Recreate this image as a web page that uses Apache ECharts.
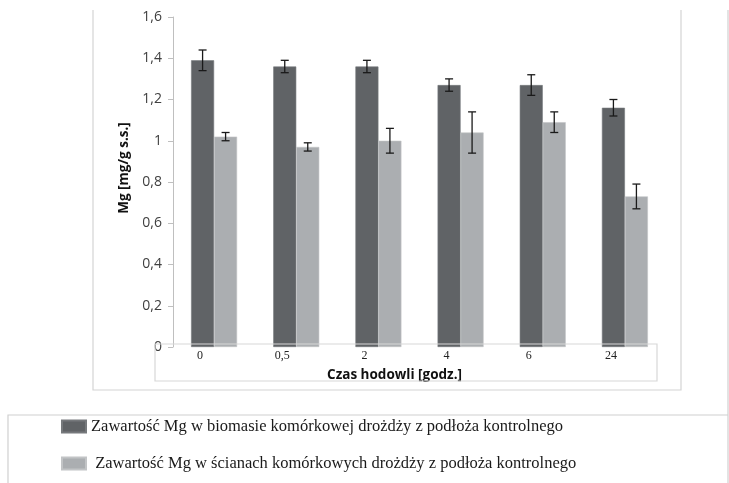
<!DOCTYPE html>
<html>
<head>
<meta charset="utf-8">
<title>Mg</title>
<script type="text/javascript" src="https://cdn.jsdelivr.net/npm/echarts@6/dist/echarts.min.js"></script>
<style>
  html, body { margin: 0; padding: 0; background: #fff; }
</style>
</head>
<body>
<div id="main" style="width: 729px; height: 483px;"></div>
<script type="text/javascript">
// czas hodowli [godz.]
var categories = ['0', '0,5', '2', '4', '6', '24'];
// zawartosc Mg w biomasie
var biomass = [1.39, 1.36, 1.36, 1.27, 1.27, 1.16];
var biomassErr = [0.05, 0.03, 0.03, 0.03, 0.05, 0.04];
// zawartosc Mg w scianach komorkowych
var walls = [1.02, 0.97, 1.00, 1.04, 1.09, 0.73];
var wallsErr = [0.02, 0.02, 0.06, 0.10, 0.05, 0.06];

var name1 = 'Zawartość Mg w biomasie komórkowej drożdży z podłoża kontrolnego';
var name2 = ' Zawartość Mg w ścianach komórkowych drożdży z podłoża kontrolnego';

var barW = 23;

function errData(vals, errs) {
  var out = [];
  for (var i = 0; i < vals.length; i++) {
    out.push([i, vals[i], errs[i]]);
  }
  return out;
}

// wasy bledow, przesuniete do srodka slupka
function errRenderer(shift) {
  return function (params, api) {
    var i = api.value(0);
    var hi = api.coord([i, api.value(1) + api.value(2)]);
    var lo = api.coord([i, api.value(1) - api.value(2)]);
    var x = hi[0] + shift;
    var cap = 4;
    var st = { stroke: '#1a1a1a', lineWidth: 1.3 };
    return {
      type: 'group',
      children: [
        { type: 'line', shape: { x1: x, y1: hi[1], x2: x, y2: lo[1] }, style: st },
        { type: 'line', shape: { x1: x - cap, y1: hi[1], x2: x + cap, y2: hi[1] }, style: st },
        { type: 'line', shape: { x1: x - cap, y1: lo[1], x2: x + cap, y2: lo[1] }, style: st }
      ]
    };
  };
}

var myChart = echarts.init(document.getElementById('main'));

var option = {
  animation: false,
  backgroundColor: '#ffffff',
  grid: { left: 173, right: 63, top: 17, bottom: 136 },
  legend: {
    orient: 'vertical',
    left: 56,
    top: 413,
    itemWidth: 24,
    itemHeight: 12,
    itemGap: 20,
    icon: 'rect',
    data: [name1, name2],
    textStyle: { fontFamily: 'Liberation Serif', fontSize: 16.5, color: '#1a1a1a', lineHeight: 15 }
  },
  xAxis: {
    type: 'category',
    data: categories,
    axisLine: { show: false },
    axisTick: { show: false },
    axisLabel: {
      margin: 3,
      fontFamily: 'Liberation Serif',
      fontSize: 12,
      color: '#222',
      padding: [0, 28, 0, 0]
    },
    name: 'Czas hodowli [godz.]',
    nameLocation: 'middle',
    nameGap: 21,
    nameTextStyle: {
      fontFamily: 'Open Sans',
      fontWeight: 'bold',
      fontSize: 13.5,
      color: '#111',
      padding: [0, 50, 0, 0]
    }
  },
  yAxis: {
    type: 'value',
    min: 0,
    max: 1.6,
    interval: 0.2,
    axisLine: { show: true, lineStyle: { color: '#bfbfbf' } },
    axisTick: { show: true, length: 5, lineStyle: { color: '#bfbfbf' } },
    splitLine: { show: false },
    axisLabel: {
      margin: 11,
      fontFamily: 'Open Sans',
      fontSize: 14,
      color: '#404040',
      formatter: function (v) { return String(Math.round(v * 10) / 10).replace('.', ','); }
    },
    name: 'Mg [mg/g s.s.]',
    nameLocation: 'middle',
    nameGap: 40,
    nameRotate: 90,
    nameTextStyle: {
      fontFamily: 'Open Sans',
      fontWeight: 'bold',
      fontSize: 13.5,
      color: '#111',
      padding: [0, 0, 0, 28]
    }
  },
  graphic: [
    { type: 'polyline', silent: true, z: 0,
      shape: { points: [[93, 10], [93, 390], [681, 390], [681, 10]] },
      style: { fill: null, stroke: '#d4d4d4', lineWidth: 1.2 } },
    { type: 'rect', silent: true, z: 100,
      shape: { x: 155, y: 344, width: 502, height: 37 },
      style: { fill: null, stroke: '#d8d8d8', lineWidth: 1.2 } },
    { type: 'polyline', silent: true, z: 0,
      shape: { points: [[8, 483], [8, 415], [728, 415]] },
      style: { fill: null, stroke: '#d0d0d0', lineWidth: 1.2 } },
    { type: 'line', silent: true, z: 0,
      shape: { x1: 728, y1: 10, x2: 728, y2: 483 },
      style: { stroke: '#d0d0d0', lineWidth: 1.2 } }
  ],
  series: [
    {
      name: name1,
      type: 'bar',
      data: biomass,
      barWidth: barW,
      barGap: '0%',
      itemStyle: { color: '#606366', borderColor: '#76797c', borderWidth: 0.6 }
    },
    {
      name: name2,
      type: 'bar',
      data: walls,
      barWidth: barW,
      barGap: '0%',
      itemStyle: { color: '#abaeb1', borderColor: '#c2c4c6', borderWidth: 0.6 }
    },
    {
      type: 'custom',
      renderItem: errRenderer(-barW / 2),
      data: errData(biomass, biomassErr),
      z: 10
    },
    {
      type: 'custom',
      renderItem: errRenderer(barW / 2),
      data: errData(walls, wallsErr),
      z: 10
    }
  ]
};

myChart.setOption(option);
</script>
</body>
</html>
